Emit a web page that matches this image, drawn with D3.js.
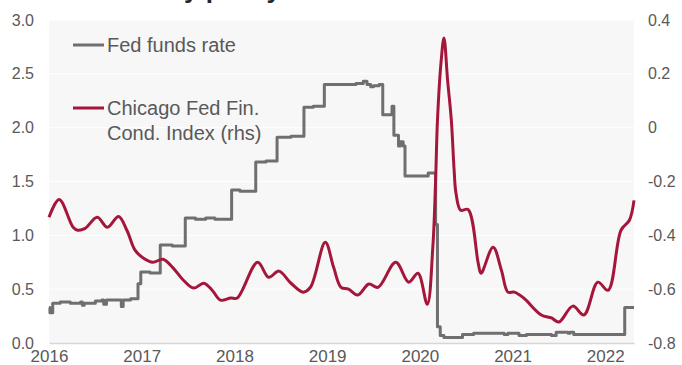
<!DOCTYPE html>
<meta charset="utf-8">
<title>Fed funds rate vs financial conditions</title>
<script src="https://d3js.org/d3.v7.min.js"></script>
<style>
  body { margin: 0; background: #fff; }
  text { font-family: "Liberation Sans", Arial, sans-serif; fill: #595959; }
</style>
<body>
<script>

// Fed funds rate (lhs, %) (decimal years)
const ffYears = [2016.00, 2016.01, 2016.04, 2016.12, 2016.23, 2016.34, 2016.36, 2016.38, 2016.50, 2016.57,
  2016.59, 2016.62, 2016.77, 2016.78, 2016.80, 2016.88, 2016.96, 2016.99, 2017.09, 2017.20,
  2017.33, 2017.47, 2017.58, 2017.69, 2017.79, 2017.97, 2018.06, 2018.23, 2018.34, 2018.46,
  2018.61, 2018.75, 2018.85, 2018.97, 2019.20, 2019.31, 2019.39, 2019.43, 2019.47, 2019.50,
  2019.56, 2019.60, 2019.70, 2019.72, 2019.77, 2019.79, 2019.82, 2019.84, 2020.01, 2020.09,
  2020.12, 2020.15, 2020.17, 2020.19, 2020.22, 2020.26, 2020.42, 2020.46, 2020.58, 2020.91,
  2020.95, 2021.07, 2021.15, 2021.42, 2021.47, 2021.60, 2021.62, 2021.66, 2022.21, 2022.31];
const ffValues = [0.33, 0.28, 0.37, 0.38, 0.37, 0.38, 0.35, 0.37, 0.39, 0.40,
  0.36, 0.40, 0.40, 0.34, 0.40, 0.41, 0.55, 0.66, 0.65, 0.91,
  0.90, 1.16, 1.15, 1.16, 1.15, 1.42, 1.41, 1.68, 1.69, 1.91,
  1.92, 2.19, 2.20, 2.40, 2.40, 2.41, 2.43, 2.40, 2.38, 2.39,
  2.40, 2.12, 2.20, 1.93, 1.83, 1.87, 1.83, 1.55, 1.55, 1.58,
  1.58, 1.58, 1.10, 0.15, 0.07, 0.05, 0.05, 0.08, 0.09, 0.08,
  0.09, 0.07, 0.08, 0.07, 0.10, 0.09, 0.10, 0.08, 0.33, 0.33];

// Chicago Fed National Financial Conditions Index (rhs)
const nfciYears = [2016.00, 2016.11, 2016.26, 2016.31, 2016.39, 2016.52, 2016.63, 2016.75, 2016.84, 2016.93,
  2017.02, 2017.12, 2017.23, 2017.34, 2017.45, 2017.56, 2017.67, 2017.76, 2017.85, 2017.96,
  2018.03, 2018.25, 2018.37, 2018.48, 2018.61, 2018.74, 2018.82, 2018.98, 2019.07, 2019.15,
  2019.23, 2019.33, 2019.45, 2019.55, 2019.74, 2019.88, 2019.98, 2020.08, 2020.14, 2020.17,
  2020.19, 2020.23, 2020.26, 2020.30, 2020.34, 2020.37, 2020.39, 2020.44, 2020.52, 2020.63,
  2020.66, 2020.79, 2020.88, 2020.95, 2021.02, 2021.12, 2021.31, 2021.42, 2021.50, 2021.65,
  2021.77, 2021.92, 2022.03, 2022.17, 2022.26, 2022.31];
const nfciValues = [-0.333, -0.267, -0.370, -0.381, -0.374, -0.333, -0.370, -0.330, -0.381, -0.456,
  -0.485, -0.500, -0.489, -0.522, -0.567, -0.596, -0.578, -0.604, -0.641, -0.633,
  -0.633, -0.500, -0.556, -0.533, -0.578, -0.611, -0.593, -0.426, -0.519, -0.593,
  -0.600, -0.622, -0.581, -0.593, -0.500, -0.574, -0.541, -0.656, -0.444, -0.196,
  0.026, 0.248, 0.333, 0.174, 0.026, -0.159, -0.244, -0.307, -0.304, -0.504,
  -0.541, -0.444, -0.530, -0.611, -0.611, -0.633, -0.696, -0.707, -0.722, -0.663,
  -0.696, -0.574, -0.604, -0.381, -0.344, -0.270];

const yearTicks = [2016, 2017, 2018, 2019, 2020, 2021, 2022];
const leftTicks = [0, 0.5, 1, 1.5, 2, 2.5, 3];
const rightTicks = [-0.8, -0.6, -0.4, -0.2, 0, 0.2, 0.4];

const width = 682, height = 365;
const margin = { top: 20, right: 48, bottom: 22, left: 49 };
const innerW = width - margin.left - margin.right;
const innerH = height - margin.top - margin.bottom;

const greyCol = "#6f6f6f";
const redCol = "#a5173a";

const svg = d3.select("body").append("svg")
  .attr("width", width)
  .attr("height", height);

// title, mostly cut off at the top of the picture
svg.append("text")
  .attr("x", 83)
  .attr("y", -2)
  .style("font-size", "26px")
  .style("font-weight", "bold")
  .style("fill", "#262626")
  .text("Monetary policy");

const g = svg.append("g")
  .attr("transform", `translate(${margin.left},${margin.top})`);

const x = d3.scaleLinear().domain([2016, 2022.31]).range([0, innerW]);
const yL = d3.scaleLinear().domain([0, 3]).range([innerH, 0]);
const yR = d3.scaleLinear().domain([-0.8, 0.4]).range([innerH, 0]);

// panel background
g.append("rect")
  .attr("width", innerW)
  .attr("height", innerH)
  .attr("fill", "#f7f7f7");

// gridlines
g.selectAll("line.grid")
  .data(leftTicks.filter(d => d > 0))
  .enter().append("line")
  .attr("class", "grid")
  .attr("x1", 0).attr("x2", innerW)
  .attr("y1", d => yL(d)).attr("y2", d => yL(d))
  .attr("stroke", "#ffffff")
  .attr("stroke-width", 1);

// x axis
const xAxis = g.append("g")
  .attr("transform", `translate(0,${innerH})`)
  .call(d3.axisBottom(x).tickValues(yearTicks).tickFormat(d3.format("d")).tickSize(0).tickPadding(5));
xAxis.select(".domain").attr("stroke", "#d6d6d6").attr("stroke-width", 1.5);
xAxis.selectAll("text").style("font-size", "17px").attr("dy", "0.85em");

// left axis
const lAxis = g.append("g")
  .call(d3.axisLeft(yL).tickValues(leftTicks).tickFormat(d => d.toFixed(1)).tickSize(0).tickPadding(15));
lAxis.select(".domain").remove();
lAxis.selectAll("text").style("font-size", "16px");

// right axis
const rAxis = g.append("g")
  .attr("transform", `translate(${innerW},0)`)
  .call(d3.axisRight(yR).tickValues(rightTicks)
    .tickFormat(d => Math.abs(d) < 1e-9 ? "0" : d.toFixed(1)).tickSize(0).tickPadding(14));
rAxis.select(".domain").remove();
rAxis.selectAll("text").style("font-size", "16px");

// lines
const ffData = ffYears.map((d, i) => [d, ffValues[i]]);
const nfciData = nfciYears.map((d, i) => [d, nfciValues[i]]);

g.append("path")
  .datum(ffData)
  .attr("fill", "none")
  .attr("stroke", greyCol)
  .attr("stroke-width", 3)
  .attr("stroke-linejoin", "round")
  .attr("d", d3.line().x(d => x(d[0])).y(d => yL(d[1])).curve(d3.curveStepAfter));

g.append("path")
  .datum(nfciData)
  .attr("fill", "none")
  .attr("stroke", redCol)
  .attr("stroke-width", 3)
  .attr("stroke-linejoin", "round")
  .attr("d", d3.line().x(d => x(d[0])).y(d => yR(d[1])).curve(d3.curveCatmullRom.alpha(0.5)));

// legend
const legend = [
  { label: ["Fed funds rate"], color: greyCol, y: 45 },
  { label: ["Chicago Fed Fin.", "Cond. Index (rhs)"], color: redCol, y: 108 }
];
const lg = svg.append("g");
legend.forEach(item => {
  lg.append("line")
    .attr("x1", 73).attr("x2", 104)
    .attr("y1", item.y).attr("y2", item.y)
    .attr("stroke", item.color)
    .attr("stroke-width", 3);
  const t = lg.append("text")
    .attr("x", 107)
    .attr("y", item.y + 7)
    .style("font-size", "20px");
  item.label.forEach((s, i) => {
    t.append("tspan").attr("x", 107).attr("dy", i === 0 ? 0 : 25).text(s);
  });
});

</script>
</body>
